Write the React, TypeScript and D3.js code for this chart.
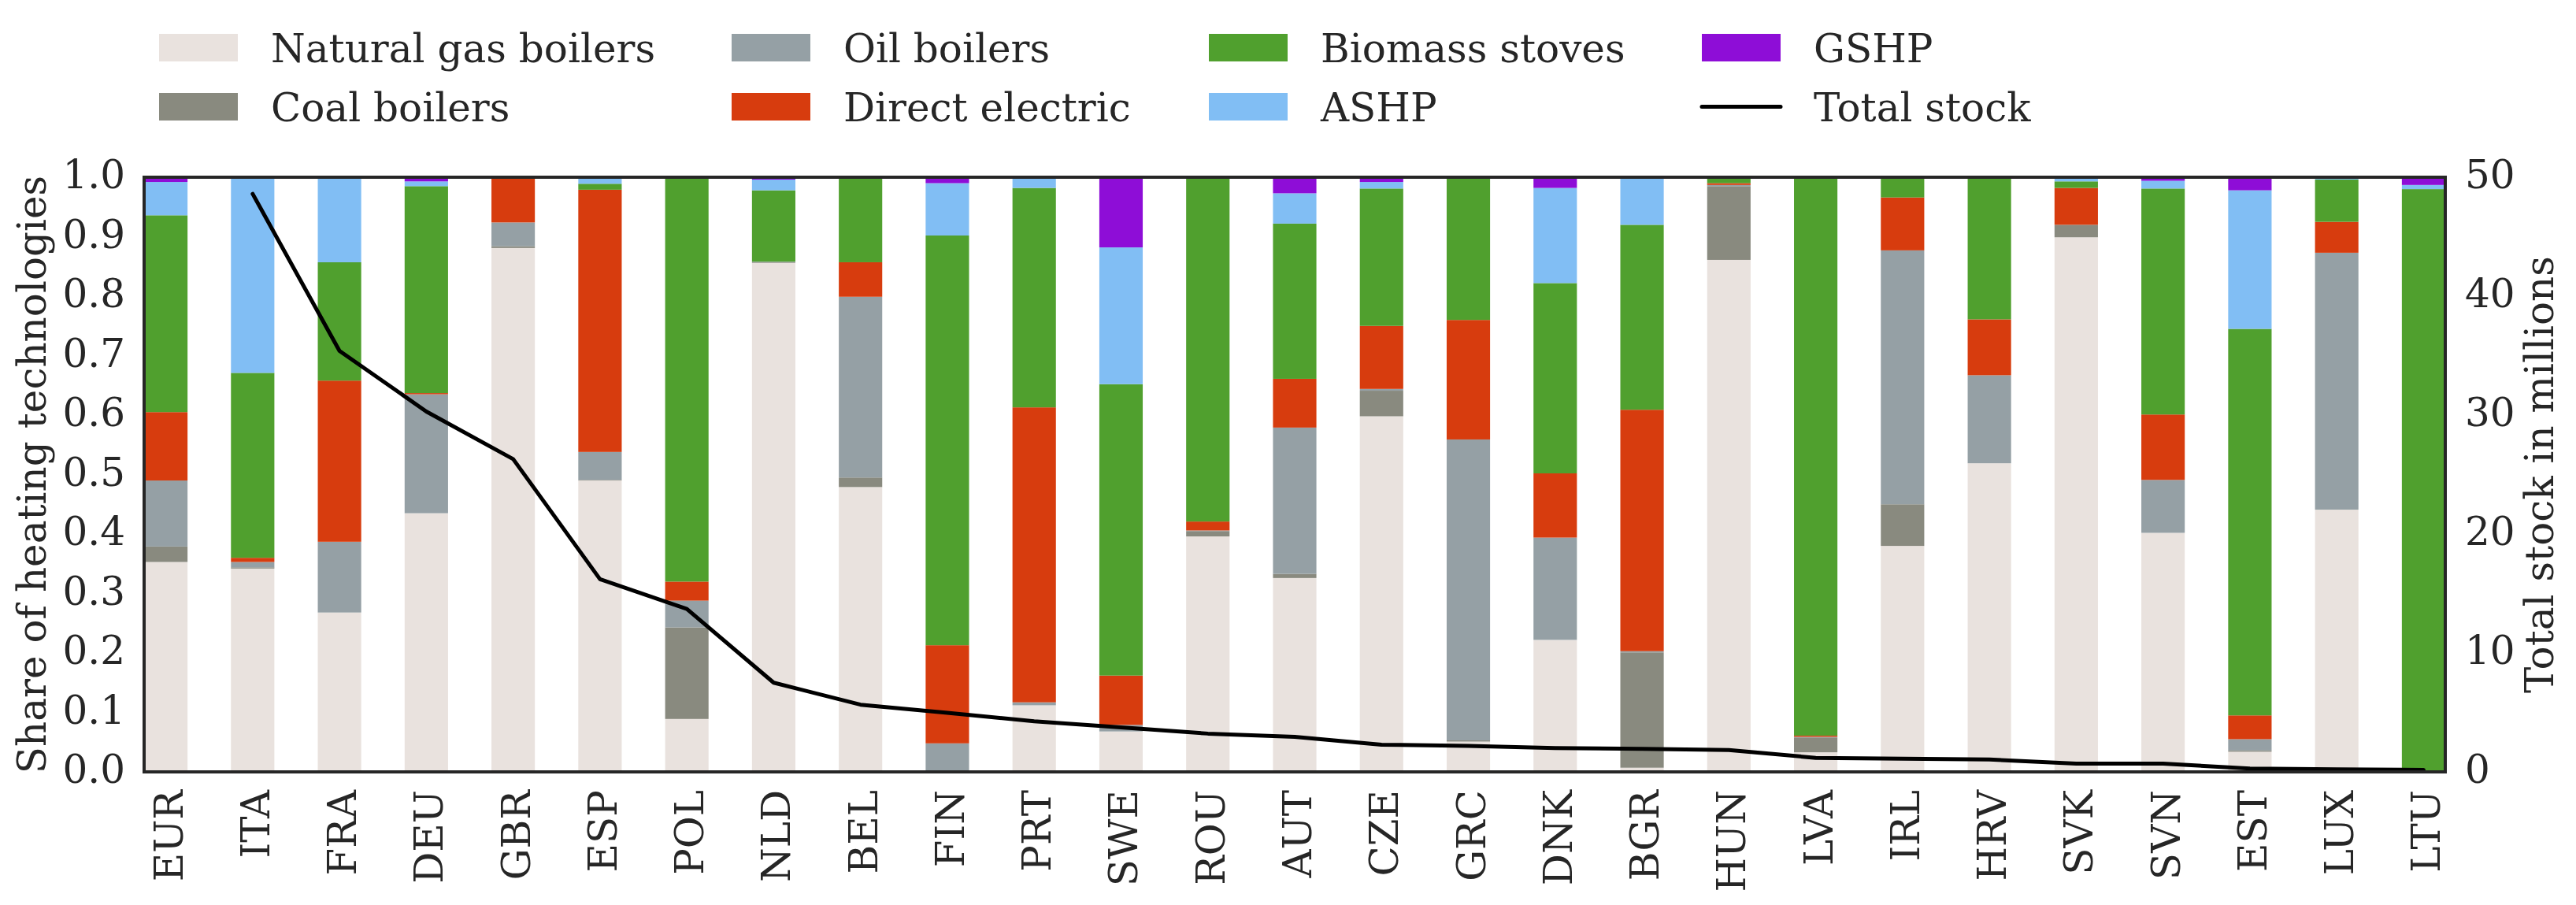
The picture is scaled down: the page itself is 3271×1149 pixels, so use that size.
import React from "react";
import * as d3 from "d3";

const countries = ["EUR","ITA","FRA","DEU","GBR","ESP","POL","NLD","BEL","FIN","PRT","SWE","ROU","AUT","CZE","GRC","DNK","BGR","HUN","LVA","IRL","HRV","SVK","SVN","EST","LUX","LTU"];

const naturalGas = [0.353,0.342,0.268,0.435,0.881,0.490,0.089,0.856,0.479,0.000,0.112,0.068,0.396,0.326,0.598,0.051,0.222,0.007,0.861,0.033,0.380,0.519,0.899,0.402,0.034,0.441,0.000];
const coal =       [0.026,0.002,0.000,0.000,0.003,0.001,0.154,0.001,0.016,0.000,0.000,0.000,0.009,0.007,0.043,0.002,0.000,0.194,0.124,0.025,0.070,0.000,0.021,0.000,0.002,0.000,0.000];
const oil =        [0.111,0.009,0.119,0.200,0.040,0.047,0.045,0.001,0.304,0.048,0.005,0.011,0.001,0.246,0.003,0.506,0.172,0.002,0.002,0.001,0.427,0.148,0.000,0.089,0.019,0.432,0.000];
const directElec = [0.115,0.007,0.271,0.002,0.075,0.441,0.032,0.000,0.058,0.165,0.496,0.083,0.015,0.082,0.106,0.201,0.108,0.406,0.003,0.002,0.089,0.094,0.062,0.110,0.040,0.052,0.000];
const biomass =    [0.331,0.311,0.199,0.348,0.001,0.010,0.680,0.120,0.141,0.689,0.369,0.490,0.579,0.261,0.231,0.240,0.320,0.311,0.009,0.939,0.032,0.239,0.011,0.380,0.650,0.071,0.980];
const ashp =       [0.056,0.329,0.143,0.008,0.000,0.009,0.000,0.018,0.002,0.088,0.018,0.230,0.000,0.051,0.011,0.000,0.160,0.080,0.001,0.000,0.002,0.000,0.005,0.013,0.233,0.004,0.007];
const gshp =       [0.008,0.000,0.000,0.007,0.000,0.002,0.000,0.004,0.000,0.010,0.000,0.118,0.000,0.027,0.008,0.000,0.018,0.000,0.000,0.000,0.000,0.000,0.002,0.006,0.022,0.000,0.013];

const totalStock: (number | null)[] = [null,48.6,35.4,30.3,26.3,16.2,13.7,7.5,5.65,4.96,4.26,3.74,3.22,2.95,2.29,2.18,2.01,1.94,1.84,1.18,1.11,1.04,0.69,0.69,0.28,0.21,0.17];

const seriesNames = ["Natural gas boilers","Coal boilers","Oil boilers","Direct electric","Biomass stoves","ASHP","GSHP"];
const seriesValues = [naturalGas, coal, oil, directElec, biomass, ashp, gshp];
const seriesColors = ["#e9e2de","#898a7f","#95a0a5","#d73c0e","#50a02e","#81bef4","#8e0dd7"];

const W = 3271, H = 1149;
const L = 183, R = 3105, T = 225, B = 980;
const FONT = "'DejaVu Serif', serif";
const FS = 50;
const TXT = "#262626";

export default function App() {
  const x = d3.scaleLinear().domain([-0.25, countries.length - 0.75]).range([L, R]);
  const y = d3.scaleLinear().domain([0, 1]).range([B, T]);
  const y2 = d3.scaleLinear().domain([0, 50]).range([B, T]);

  const rows = countries.map((c, i) => {
    const o: any = { c };
    seriesNames.forEach((s, k) => (o[s] = seriesValues[k][i]));
    return o;
  });
  const stacked = d3.stack().keys(seriesNames)(rows as any);

  const line = d3
    .line<number | null>()
    .defined((d) => d != null)
    .x((_, i) => x(i))
    .y((d) => y2(d as number));

  const yTicks = d3.range(0, 11).map((v) => v / 10);
  const y2Ticks = [0, 10, 20, 30, 40, 50];

  const legendCols = [202, 929, 1535, 2161];
  const legendRows = [60.5, 135.5];
  const legendItems = [...seriesNames.map((n, k) => ({ n, color: seriesColors[k], line: false })), { n: "Total stock", color: "#000", line: true }];

  return (
    <svg width={W} height={H} style={{ position: "fixed", left: 0, top: 0, background: "#fff" }} fontFamily={FONT}>
      <rect x={0} y={0} width={W} height={H} fill="#fff" />
      {/* legend */}
      {legendItems.map((it, k) => {
        const cx = legendCols[Math.floor(k / 2)];
        const cy = legendRows[k % 2];
        return (
          <g key={it.n}>
            {it.line ? (
              <line x1={cx} x2={cx + 100} y1={cy} y2={cy} stroke="#000" strokeWidth={5} strokeLinecap="round" />
            ) : (
              <rect x={cx} y={cy - 17.5} width={100} height={35} fill={it.color} />
            )}
            <text x={cx + 142} y={cy + 18.8} fontSize={FS} fill={TXT}>{it.n}</text>
          </g>
        );
      })}
      {/* bars */}
      {stacked.map((layer, k) => (
        <g key={seriesNames[k]} fill={seriesColors[k]}>
          {layer.map((d, i) => {
            const h = y(d[0]) - y(d[1]);
            if (h <= 0) return null;
            return <rect key={i} x={x(i - 0.25)} width={x(i + 0.25) - x(i - 0.25)} y={y(d[1])} height={h} />;
          })}
        </g>
      ))}
      {/* total stock line */}
      <path d={line(totalStock) || ""} fill="none" stroke="#000" strokeWidth={5} strokeLinejoin="round" strokeLinecap="round" />
      {/* frame */}
      <rect x={L} y={T} width={R - L} height={B - T} fill="none" stroke={TXT} strokeWidth={4} />
      {/* left ticks */}
      {yTicks.map((v) => (
        <text key={v} x={159} y={y(v)} dy="0.28em" textAnchor="end" fontSize={FS} fill={TXT}>{v.toFixed(1)}</text>
      ))}
      {/* right ticks */}
      {y2Ticks.map((v) => (
        <text key={v} x={3130} y={y2(v)} dy="0.28em" textAnchor="start" fontSize={FS} fill={TXT}>{v}</text>
      ))}
      {/* x labels */}
      {countries.map((c, i) => (
        <text key={c} transform={`translate(${x(i) + 21},1003) rotate(-90)`} textAnchor="end" fontSize={FS} fill={TXT}>{c}</text>
      ))}
      {/* axis titles */}
      <text transform={`translate(58,${(T + B) / 2}) rotate(-90)`} textAnchor="middle" fontSize={FS} fill={TXT}>Share of heating technologies</text>
      <text transform={`translate(3242,${(T + B) / 2}) rotate(-90)`} textAnchor="middle" fontSize={FS} fill={TXT}>Total stock in millions</text>
    </svg>
  );
}
